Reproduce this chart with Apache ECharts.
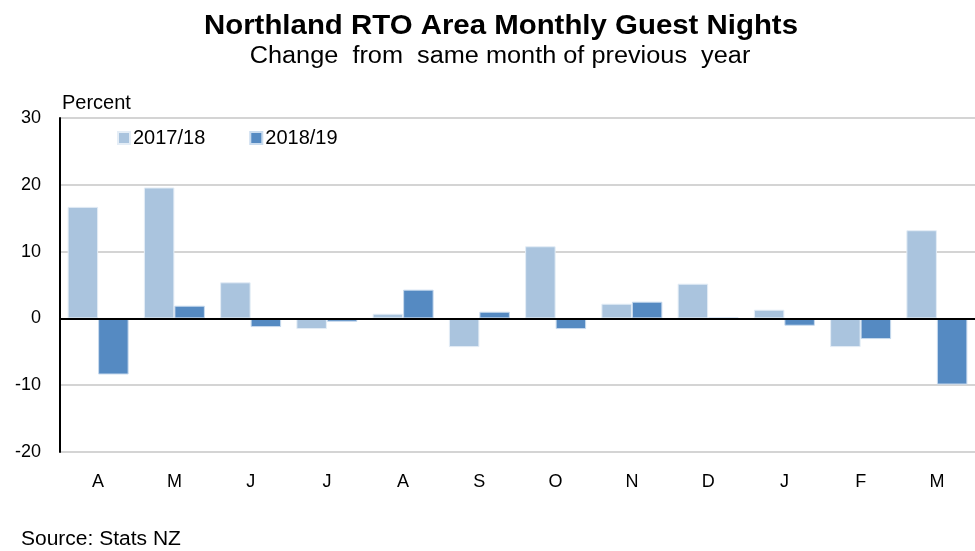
<!DOCTYPE html>
<html><head><meta charset="utf-8">
<script src="https://cdn.jsdelivr.net/npm/echarts@6/dist/echarts.min.js"></script>
<style>html,body{margin:0;padding:0;background:#fff}#c{width:975px;height:551px}</style>
</head><body><div id="c"></div>
<script>
const categories = ['A','M','J','J','A','S','O','N','D','J','F','M'];
const series1718 = [16.7, 19.6, 5.4, -1.6, 0.7, -4.3, 10.8, 2.2, 5.2, 1.3, -4.3, 13.2];
const series1819 = [-8.4, 1.9, -1.3, -0.5, 4.3, 1.0, -1.6, 2.5, 0.1, -1.1, -3.1, -9.9];
const yTicks = [-20, -10, 0, 10, 20, 30];

const font = 'Liberation Sans, Arial, sans-serif';
const chart = echarts.init(document.getElementById('c'));
chart.setOption({
  animation: false,
  graphic: [
    {type: 'text', x: 501, y: 12, scaleX: 1.05,
     style: {text: 'Northland RTO Area Monthly Guest Nights', align: 'center', verticalAlign: 'top',
             font: 'bold 28px Liberation Sans, Arial, sans-serif', fill: '#000'}},
    {type: 'text', x: 500, y: 45, scaleX: 1.1,
     style: {text: 'Change  from  same month of previous  year', align: 'center', verticalAlign: 'top',
             font: '23px Liberation Sans, Arial, sans-serif', fill: '#000'}},
    {type: 'text', x: 62, y: 93,
     style: {text: 'Percent', align: 'left', verticalAlign: 'top',
             font: '20px Liberation Sans, Arial, sans-serif', fill: '#000'}},
    {type: 'text', x: 21, y: 529, scaleX: 1.05,
     style: {text: 'Source: Stats NZ', align: 'left', verticalAlign: 'top',
             font: '20px Liberation Sans, Arial, sans-serif', fill: '#000'}}
  ],
  legend: {
    left: 112, top: 123, itemGap: 44, itemWidth: 12, itemHeight: 12, icon: 'rect',
    textStyle: {fontFamily: font, fontSize: 20, color: '#000', padding: [0,0,0,-2]},
    data: ['2017/18', '2018/19']
  },
  grid: {left: 60, right: 0, top: 118, bottom: 99, containLabel: false},
  xAxis: {
    type: 'category', data: categories,
    axisLine: {show: false}, axisTick: {show: false},
    axisLabel: {fontFamily: font, fontSize: 18, color: '#000', margin: 21}
  },
  yAxis: {
    type: 'value', min: yTicks[0], max: yTicks[yTicks.length-1], interval: 10,
    axisLine: {show: true, lineStyle: {color: '#000', width: 2}},
    axisTick: {show: false},
    axisLabel: {fontFamily: font, fontSize: 18, color: '#000', margin: 19},
    splitLine: {show: true, lineStyle: {color: '#d4d4d4', width: 2}}
  },
  series: [
    {name: '2017/18', type: 'bar', data: series1718, barGap: '0%', barCategoryGap: '20%',
     itemStyle: {color: '#aac4de', borderColor: '#e4edf6', borderWidth: 1},
     markLine: {silent: true, symbol: 'none', label: {show: false},
       lineStyle: {color: '#000', width: 2, type: 'solid'}, data: [{yAxis: 0}]}},
    {name: '2018/19', type: 'bar', data: series1819,
     itemStyle: {color: '#558ac2', borderColor: '#c9dbee', borderWidth: 1}}
  ]
});
</script></body></html>
